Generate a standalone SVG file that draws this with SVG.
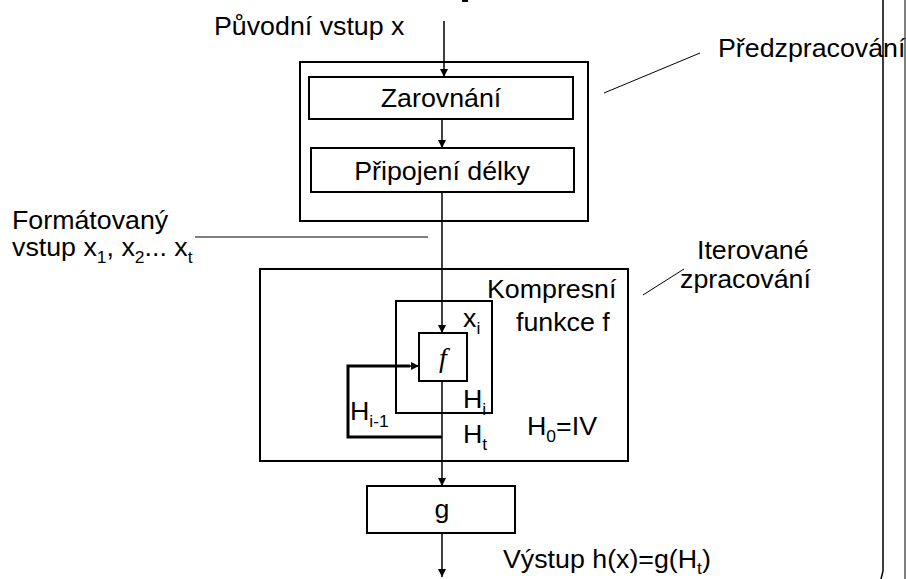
<svg xmlns="http://www.w3.org/2000/svg" width="906" height="579" viewBox="0 0 906 579">
<style>
.t{font-family:"Liberation Sans",Arial,sans-serif;font-size:26px;fill:#000}
.s{font-size:17px}
.box{fill:#fff;stroke:#000;stroke-width:2}
.open{fill:none;stroke:#000;stroke-width:2}
.ln{fill:none;stroke:#000;stroke-width:1.5}
.thin{fill:none;stroke:#000;stroke-width:1}
.thick{fill:none;stroke:#000;stroke-width:3}
.fi{font-family:"Liberation Serif","Times New Roman",serif;font-style:italic;font-size:28px}
</style>
<defs>
<marker id="ah" viewBox="0 0 10 10" refX="10" refY="5" markerWidth="8" markerHeight="8" markerUnits="userSpaceOnUse" orient="auto">
<path d="M0,0 L10,5 L0,10 z" fill="#000"/>
</marker>
</defs>
<rect width="906" height="579" fill="#fff"/>

<g id="preprocess">
<rect class="box" x="300" y="62" width="288" height="159"/>
</g>
<g id="iterated">
<rect class="box" x="260" y="269" width="368" height="192"/>
</g>
<g id="compress">
<rect class="open" x="396" y="301" width="96" height="112"/>
</g>
<g id="zarovnani">
<rect class="box" x="309" y="77" width="264" height="42"/>
<text class="t" text-anchor="middle" transform="translate(441,107) scale(1.03,1)">Zarovnání</text>
</g>
<g id="pripojeni">
<rect class="box" x="311" y="148" width="263" height="44"/>
<text class="t" text-anchor="middle" transform="translate(442,180) scale(1.03,1)">Připojení délky</text>
</g>
<g id="f">
<rect class="box" x="419" y="333" width="48" height="48"/>
<text class="fi" x="443" y="367" text-anchor="middle">f</text>
</g>
<g id="g">
<rect class="box" x="367" y="486" width="148" height="47"/>
<text class="t" text-anchor="middle" transform="translate(442,518) scale(1.03,1)">g</text>
</g>

<g id="connectors">
<line class="ln" x1="444" y1="21" x2="444" y2="77" marker-end="url(#ah)"/>
<line class="ln" x1="442" y1="119" x2="442" y2="148" marker-end="url(#ah)"/>
<line class="ln" x1="442" y1="192" x2="442" y2="333" marker-end="url(#ah)"/>
<line class="ln" x1="442" y1="381" x2="442" y2="486" marker-end="url(#ah)"/>
<line class="ln" x1="442" y1="533" x2="442" y2="577" marker-end="url(#ah)"/>
<polyline class="thick" points="442,437 348,437 348,366 410,366"/>
<line class="ln" x1="405" y1="366" x2="419" y2="366" marker-end="url(#ah)"/>
<line class="thin" x1="700" y1="53" x2="604" y2="93"/>
<line class="thin" x1="195" y1="237" x2="428" y2="237"/>
<line class="thin" x1="684" y1="269" x2="643" y2="295"/>
</g>

<g id="labels">
<text class="t" transform="translate(214,35) scale(1.03,1)">Původní vstup x</text>
<text class="t" transform="translate(718,57) scale(1.03,1)">Předzpracování</text>
<text class="t" transform="translate(12,229) scale(1.03,1)">Formátovaný</text>
<text class="t" transform="translate(12,256) scale(1.03,1)">vstup x<tspan class="s" dy="7">1</tspan><tspan dy="-7">, x</tspan><tspan class="s" dy="7">2</tspan><tspan dy="-7">... x</tspan><tspan class="s" dy="7">t</tspan></text>
<text class="t" transform="translate(697,259) scale(1.03,1)">Iterované</text>
<text class="t" transform="translate(680,288) scale(1.03,1)">zpracování</text>
<text class="t" transform="translate(487,298) scale(1.03,1)">Kompresní</text>
<text class="t" transform="translate(516,331) scale(1.03,1)">funkce f</text>
<text class="t" transform="translate(463,327) scale(1.03,1)">x<tspan class="s" dy="7">i</tspan></text>
<text class="t" transform="translate(463,408) scale(1.03,1)">H<tspan class="s" dy="7">i</tspan></text>
<text class="t" transform="translate(350,420) scale(1.03,1)">H<tspan class="s" dy="7">i-1</tspan></text>
<text class="t" transform="translate(463,443) scale(1.03,1)">H<tspan class="s" dy="7">t</tspan></text>
<text class="t" transform="translate(527,435) scale(1.03,1)">H<tspan class="s" dy="7">0</tspan><tspan dy="-7">=IV</tspan></text>
<text class="t" transform="translate(503,568) scale(1.03,1)">Výstup h(x)=g(H<tspan class="s" dy="6">t</tspan><tspan dy="-6">)</tspan></text>
</g>

<g id="edge">
<path class="ln" d="M883,0 V571 L881,579"/>
<line class="thin" x1="905" y1="0" x2="905" y2="579"/>
<rect x="462" y="0" width="6" height="2" fill="#000"/>
</g>
</svg>
